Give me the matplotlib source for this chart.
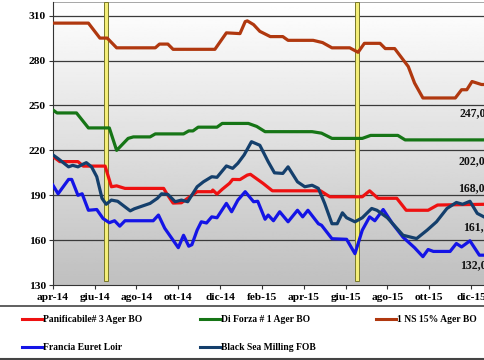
import numpy as np
import matplotlib.pyplot as plt
from matplotlib.lines import Line2D

# mesi da apr-14 (0)
tick_lab = ["apr-14", "giu-14", "ago-14", "ott-14", "dic-14", "feb-15",
            "apr-15", "giu-15", "ago-15", "ott-15", "dic-15"]

ns_x = [0, 1.7, 2.25, 2.6, 3.05, 4.9, 5.1, 5.5, 5.75, 7.75, 8.3, 8.95, 9.2, 9.3, 9.6,
        9.9, 10.4, 11, 11.25, 12.45, 12.9, 13.35, 14.2, 14.6, 14.9, 15.65, 15.9, 16.35,
        17, 17.3, 17.7, 19.25, 19.55, 19.8, 20.05, 20.5, 20.7]
ns_y = [305, 305, 295, 295, 288.5, 288.5, 291, 291, 287.5, 287.5, 298.5, 298, 306, 306.5, 304,
        299.5, 296, 296, 293.5, 293.5, 292, 288.5, 288.5, 285.5, 291.5, 291.5, 288, 288,
        276, 265, 255, 255, 260.5, 260.5, 266, 264, 264]

df_x = [0, 0.2, 1.13, 1.7, 2.7, 3.05, 3.6, 3.85, 4.65, 4.9, 6.25, 6.5, 6.7, 6.95, 7.85,
        8.1, 9.35, 9.75, 10.15, 12.4, 12.85, 13.35, 14.8, 15.2, 16.5, 16.85, 20.7]
df_y = [247, 245, 245, 235, 235, 220, 228, 229, 229, 231, 231, 233, 233, 235.5, 235.5,
        238, 238, 236, 232.5, 232.5, 231.5, 228, 228, 230, 230, 227, 227]

pa_x = [0, 0.33, 1.2, 1.45, 2.5, 2.8, 3.05, 3.45, 5.3, 5.45, 5.75, 6.15, 6.55, 6.9, 7.6,
        7.65, 7.85, 8.1, 8.45, 8.6, 8.95, 9.3, 9.45, 10.05, 10.5, 12.8, 13.25, 14.8, 15.15,
        15.55, 16.45, 16.9, 17.95, 18.4, 20.7]
pa_y = [216, 212.5, 212.5, 209.5, 209.5, 195.7, 196.3, 194.6, 194.6, 191, 184.8, 185, 189, 192.4, 192.4,
        193.5, 190.8, 194, 198, 200.6, 200.5, 203.5, 204, 198, 193, 193, 189, 189, 193,
        188, 188, 180, 180, 183.5, 184]

fr_x = [0, 0.25, 0.75, 0.9, 1.2, 1.4, 1.7, 2.1, 2.4, 2.7, 2.95, 3.2, 3.45, 4.8, 5.05,
        5.35, 5.75, 6.0, 6.25, 6.5, 6.65, 6.9, 7.1, 7.35, 7.6, 7.85, 8.3, 8.55, 8.85, 9.2,
        9.6, 9.8, 10.15, 10.3, 10.55, 10.85, 11.25, 11.7, 11.95, 12.2, 12.7, 12.85, 13.35,
        14.05, 14.45, 14.8, 15.15, 15.4, 15.8, 16.25, 16.75, 17.3, 17.7, 17.95, 18.2, 19.0,
        19.3, 19.55, 19.95, 20.4, 20.7]
fr_y = [196.8, 191, 200.6, 200.6, 190, 191, 180, 180.5, 174.5, 171.7, 173, 169.4, 173, 173, 176.8,
        168, 160, 155, 163.3, 156, 157, 166.7, 172.3, 171.5, 175.6, 175, 184.6, 179, 186.8, 192.4,
        185.7, 186, 174, 176.8, 173, 179, 172.3, 180, 175.6, 180, 171, 170, 161,
        160.6, 151, 166.7, 175.6, 173, 180.5, 171, 162, 155, 149, 153.8, 152.5, 152.5,
        157.8, 155.5, 159.6, 150, 150]

bs_x = [0, 0.25, 0.75, 0.95, 1.2, 1.4, 1.6, 1.85, 2.1, 2.35, 2.55, 2.8, 3.1, 3.7, 3.9,
        4.65, 5.0, 5.2, 5.5, 5.85, 6.15, 6.45, 6.9, 7.2, 7.6, 7.85, 8.3, 8.6, 8.85, 9.15,
        9.5, 9.9, 10.3, 10.6, 11.0, 11.25, 11.7, 12.05, 12.4, 12.7, 13.0, 13.35, 13.6, 13.85,
        14.05, 14.45, 14.8, 15.25, 15.5, 16.0, 16.45, 16.75, 17.4, 17.9, 18.35, 18.85, 19.3,
        19.6, 19.95, 20.3, 20.7]
bs_y = [217, 214.5, 209, 210, 209, 210.5, 211.8, 209, 202.4, 188, 184, 186.8, 186, 179.6, 181,
        184.6, 188, 191, 190.6, 185.7, 186.8, 185.7, 195.7, 199, 202.4, 202, 209.6, 208, 211.4, 217,
        225.8, 223.4, 212.4, 205, 204.6, 209, 199, 195.7, 196.7, 194.6, 184.6, 171, 171, 178.3,
        175, 172.3, 175, 181.2, 180, 175, 168, 163.3, 161.1, 166.7, 172.3, 181.2, 185.2,
        184, 186, 177.9, 175]

events = [2.54, 14.55]
lab_txt = ["247,0", "202,0", "168,0", "161,", "132,0"]
lab_x = [19.47, 19.38, 19.38, 19.6, 19.47]
lab_y = [245, 212.9, 194.8, 168.7, 143.3]

series = [("Panificabile# 3 Ager BO", pa_x, pa_y, "#ee1111"),
          ("Di Forza # 1 Ager BO", df_x, df_y, "#167516"),
          ("1 NS 15% Ager BO", ns_x, ns_y, "#b0380f"),
          ("Francia Euret Loir", fr_x, fr_y, "#1414e6"),
          ("Black Sea Milling FOB", bs_x, bs_y, "#143f6c")]

plt.rcParams['font.family'] = ['Liberation Serif', 'DejaVu Serif']
plt.rcParams['font.weight'] = 'bold'

fig = plt.figure(figsize=(4.85, 3.6), dpi=100)
ax = fig.add_axes([0.109, 0.208, 0.891, 0.786])
xmax = 20.67
ax.set_xlim(0, xmax)
ax.set_ylim(130, 319)

# sfondo sfumato
grad = np.linspace(1, 0, 256).reshape(-1, 1)
ax.imshow(grad, extent=[0, xmax, 130, 319], aspect='auto', cmap='gray',
          vmin=-3.0, vmax=1, zorder=0, origin='upper')

for v in [160, 190, 220, 250, 280, 310]:
    ax.axhline(v, color="#3a3a3a", lw=0.9, zorder=1)
ax.axhline(319, color="#999999", lw=0.6, zorder=1)

for e in events:
    ax.axvspan(e - 0.1, e + 0.1, ymin=0.015, ymax=1, facecolor="#f4ee78",
               edgecolor="#77772a", lw=0.7, zorder=2)

for name, xs, ys, c in series:
    ax.plot(xs, ys, color=c, lw=2.3, zorder=3, solid_joinstyle='round')

for t, x, y in zip(lab_txt, lab_x, lab_y):
    ax.text(x, y, t, fontsize=8.5, fontweight='bold', va='center', ha='left',
            color="#111111", zorder=4)

ax.set_xticks(np.arange(0, 21, 2))
ax.set_xticklabels(tick_lab)
ax.set_yticks([130, 160, 190, 220, 250, 280, 310])
ax.tick_params(axis='both', labelsize=8.2, length=3, width=0.8, color="#333333", pad=2)
ax.tick_params(axis='x', pad=3)
for s in ["top", "right"]:
    ax.spines[s].set_visible(False)
ax.spines["left"].set_color("#333333")
ax.spines["bottom"].set_color("#333333")

# legenda
fig.add_artist(Line2D([0, 1], [1 - 306 / 360] * 2, color="#444444", lw=1.2))
fig.add_artist(Line2D([0, 1], [1 - 359 / 360] * 2, color="#444444", lw=1.5))
pos = [(22, 319), (200, 319), (376, 319), (22, 347), (200, 347)]
for (name, xs, ys, c), (px, py) in zip(series, pos):
    yy = 1 - py / 360
    fig.add_artist(Line2D([px / 485, (px + 20) / 485], [yy, yy], color=c, lw=2.2))
    fig.text((px + 21) / 485, yy, name, fontsize=6.9, fontweight='bold', va='center', ha='left')

plt.savefig("out.png", dpi=100)
